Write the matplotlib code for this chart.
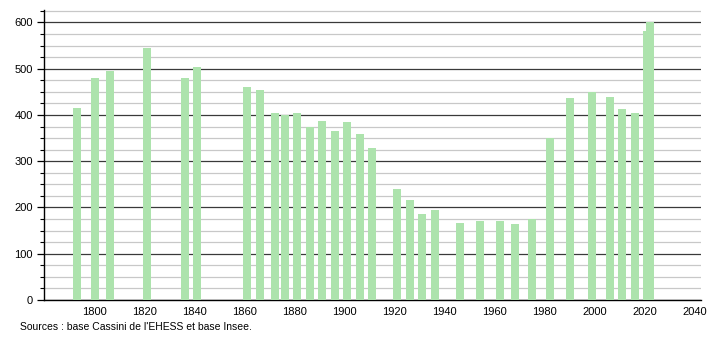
import matplotlib
matplotlib.use('Agg')
import matplotlib.pyplot as plt
from matplotlib.ticker import MultipleLocator

# Population data
years = [1793, 1800, 1806, 1821, 1836, 1841, 1861, 1866, 1872, 1876, 1881, 1886,
         1891, 1896, 1901, 1906, 1911, 1921, 1926, 1931, 1936, 1946, 1954, 1962,
         1968, 1975, 1982, 1990, 1999, 2006, 2011, 2016, 2021, 2022]
population = [416, 480, 496, 545, 480, 504, 460, 455, 404, 399, 404, 375,
              388, 365, 385, 359, 329, 240, 216, 187, 195, 166, 171, 171,
              164, 175, 350, 437, 449, 439, 413, 404, 581, 600]

x_ticks = [1800, 1820, 1840, 1860, 1880, 1900, 1920, 1940, 1960, 1980, 2000, 2020, 2040]
y_ticks = [0, 100, 200, 300, 400, 500, 600]
source_text = "Sources : base Cassini de l'EHESS et base Insee."

plt.rcParams['font.family'] = ['Liberation Sans', 'DejaVu Sans']

fig = plt.figure(figsize=(7.1, 3.4), dpi=100)
ax = fig.add_axes([44 / 710, 40 / 340, 657 / 710, 290 / 340])

ax.bar(years, population, width=3.2, color='#ade3ad', zorder=3)

ax.set_xlim(1779.8, 2042.6)
ax.set_ylim(0, 627)

ax.set_xticks(x_ticks)
ax.set_yticks(y_ticks)
ax.yaxis.set_minor_locator(MultipleLocator(25))

# grid: dark lines every 100, light lines every 25
ax.grid(True, axis='y', which='major', color='#3a3a3a', linewidth=0.9, zorder=1)
ax.grid(True, axis='y', which='minor', color='#c8c8c8', linewidth=0.9, zorder=0)
ax.set_axisbelow(True)

for side in ['top', 'right']:
    ax.spines[side].set_visible(False)
ax.spines['left'].set_linewidth(1.0)
ax.spines['bottom'].set_linewidth(1.0)

ax.tick_params(axis='x', length=0, pad=5, labelsize=8)
ax.tick_params(axis='y', which='major', length=5, width=0.9, labelsize=8, pad=3)
ax.tick_params(axis='y', which='minor', length=3, width=0.8)

fig.text(20 / 710, 1 - 327 / 340, source_text, fontsize=7.5, va='center', ha='left')

fig.savefig('out.png', dpi=100)
